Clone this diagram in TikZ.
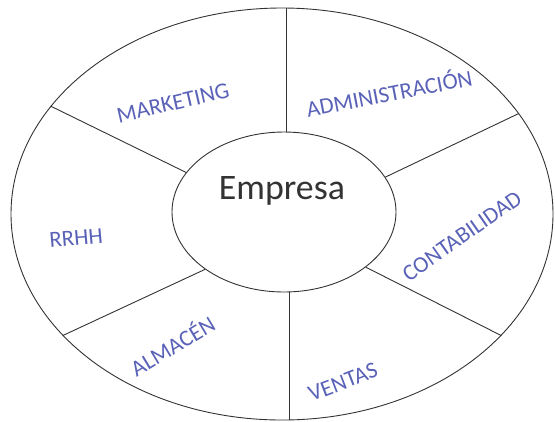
\documentclass[tikz,border=0pt]{standalone}
\usepackage{fontspec}
\setmainfont{Carlito}
\usetikzlibrary{shapes.geometric}
\definecolor{ink}{HTML}{333333}
\definecolor{pen}{HTML}{5A62B8}
\tikzset{
  ring/.style ={draw=ink, ellipse, line width=0.9bp, inner sep=0pt},
  sep/.style  ={draw=ink, line width=0.9bp},
  hand/.style ={text=pen, font=\fontsize{23}{23}\selectfont, inner sep=1bp},
}
\begin{document}
\begin{tikzpicture}[x=1bp,y=-1bp]
\useasboundingbox (0,0) rectangle (555,421);
\node[ring, minimum width=542bp, minimum height=412bp] (outer) at (282,214) {};
\node[ring, minimum width=224bp, minimum height=160bp, fill=white] (inner) at (284,212) {};
\node[font=\fontsize{36}{36}\selectfont, text=ink] (empresa) at (282,191) {Empresa};
% spokes from the centre to the rim
\draw[sep] (inner.88) -- (inner.88 |- outer.north);
\draw[sep] (inner.274) -- (inner.274 |- outer.south);
\draw[sep] (inner.158.7) -- (outer.155.6);
\draw[sep] (inner.19.8) -- (outer.23.7);
\draw[sep] (inner.216.5) -- (outer.209.8);
\draw[sep] (inner.326.9) -- (outer.331.5);
% areas
\node[hand, rotate=13] (mkt) at (173,103) {MARKETING};
\node[hand, rotate=11] (adm) at (389,92) {ADMINISTRACIÓN};
\node[hand, rotate=35] (cont) at (462,236) {CONTABILIDAD};
\node[hand, rotate=5] (rrhh) at (76,238) {RRHH};
\node[hand, rotate=31] (alm) at (172,345) {ALMACÉN};
\node[hand, rotate=21] (vent) at (343,382) {VENTAS};
\end{tikzpicture}
\end{document}
